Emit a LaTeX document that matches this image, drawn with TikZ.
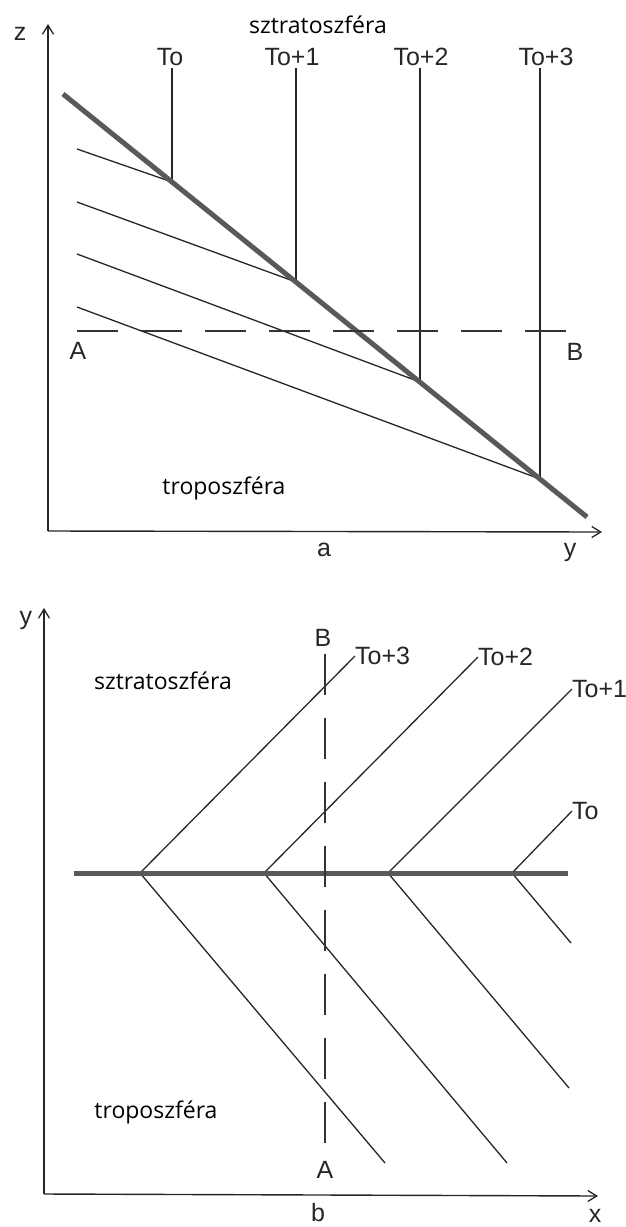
\documentclass[tikz,border=0pt]{standalone}
\usepackage{fontspec}
\setmainfont{Liberation Sans}
\newfontfamily\wordfont{Open Sans}
\usetikzlibrary{arrows.meta}
\begin{document}
\begin{tikzpicture}[x=1pt,y=-1pt,
  axis/.style={line width=1.4pt, draw=black!85, -{Straight Barb[length=9pt,width=11pt,line width=1.3pt]}},
  thickln/.style={line width=5pt, draw=black!65},
  thinln/.style={line width=1.3pt, draw=black!85},
  dashln/.style={line width=1.2pt, draw=black!80, dash pattern=on 41pt off 23pt},
  lbl/.style={font=\fontsize{25}{25}\selectfont, text=black!85, inner sep=0pt},
  word/.style={font=\wordfont\fontsize{23}{23}\selectfont, inner sep=0pt}]
\useasboundingbox (0,0) rectangle (625,1227);

% ---------- panel a ----------
\coordinate (aO) at (48,531);
\coordinate (aZ) at (48,24);
\coordinate (aY) at (602,532);
\draw[axis] (aO) -- (aZ);
\draw[axis] (aO) -- (aY);
\node[lbl] (zl) at (20,34) {z};
\node[lbl] (al) at (324,550) {a};
\node[lbl] (yl) at (570,552) {y};
\node[word] (s1) at (318,25) {sztratoszféra};
\node[word] (t1) at (224,488) {troposzféra};

\coordinate (tS) at (63,94);
\coordinate (tE) at (587,517);
\coordinate (j0) at (172,182);
\coordinate (j1) at (296,282);
\coordinate (j2) at (420,382);
\coordinate (j3) at (540,479);
\coordinate (v0) at (172,68);
\coordinate (v1) at (296,68);
\coordinate (v2) at (420,68);
\coordinate (v3) at (540,68);
\coordinate (h0) at (77,149);
\coordinate (h1) at (77,202);
\coordinate (h2) at (77,254);
\coordinate (h3) at (77,307);
\draw[thinln] (v0) -- (j0);
\draw[thinln] (v1) -- (j1);
\draw[thinln] (v2) -- (j2);
\draw[thinln] (v3) -- (j3);
\draw[thinln] (h0) -- (j0);
\draw[thinln] (h1) -- (j1);
\draw[thinln] (h2) -- (j2);
\draw[thinln] (h3) -- (j3);
\draw[thickln] (tS) -- (tE);
\node[lbl] (T0a) at (170,57) {To};
\node[lbl] (T1a) at (292,57) {To+1};
\node[lbl] (T2a) at (421,57) {To+2};
\node[lbl] (T3a) at (546,57) {To+3};
\coordinate (dA) at (77,331);
\coordinate (dB) at (580,331);
\draw[dashln] (dA) -- (dB);
\node[lbl] (Aa) at (78,351) {A};
\node[lbl] (Ba) at (575,352) {B};

% ---------- panel b ----------
\coordinate (bO) at (44,1194);
\coordinate (bY) at (44,608);
\coordinate (bX) at (598,1196);
\draw[axis] (bO) -- (bY);
\draw[axis] (bO) -- (bX);
\node[lbl] (ylb) at (26,620) {y};
\node[lbl] (blb) at (318,1213) {b};
\node[lbl] (xlb) at (595,1216) {x};
\node[word] (s2) at (163,681) {sztratoszféra};
\node[word] (t2) at (156,1112) {troposzféra};

\coordinate (hS) at (74,873);
\coordinate (hE) at (568,873);
\coordinate (k3) at (140,873);
\coordinate (k2) at (264,873);
\coordinate (k1) at (388,873);
\coordinate (k0) at (512,873);
\coordinate (u3) at (355,656);
\coordinate (u2) at (478,657);
\coordinate (u1) at (572,689);
\coordinate (u0) at (572,811);
\coordinate (d3) at (385,1163);
\coordinate (d2) at (507,1163);
\coordinate (d1) at (569,1088);
\coordinate (d0) at (571,943);
\draw[thinln] (k3) -- (u3);
\draw[thinln] (k2) -- (u2);
\draw[thinln] (k1) -- (u1);
\draw[thinln] (k0) -- (u0);
\draw[thinln] (k3) -- (d3);
\draw[thinln] (k2) -- (d2);
\draw[thinln] (k1) -- (d1);
\draw[thinln] (k0) -- (d0);
\draw[thickln] (hS) -- (hE);
\node[lbl, anchor=west] (T3b) at (u3) {To+3};
\node[lbl, anchor=west] (T2b) at (u2) {To+2};
\node[lbl, anchor=west] (T1b) at (u1) {To+1};
\node[lbl, anchor=west] (T0b) at (u0) {To};
\coordinate (eB) at (325,654);
\coordinate (eA) at (325,1147);
\draw[dashln] (eB) -- (eA);
\node[lbl] (Bb) at (323,638) {B};
\node[lbl] (Ab) at (325,1170) {A};
\end{tikzpicture}
\end{document}
